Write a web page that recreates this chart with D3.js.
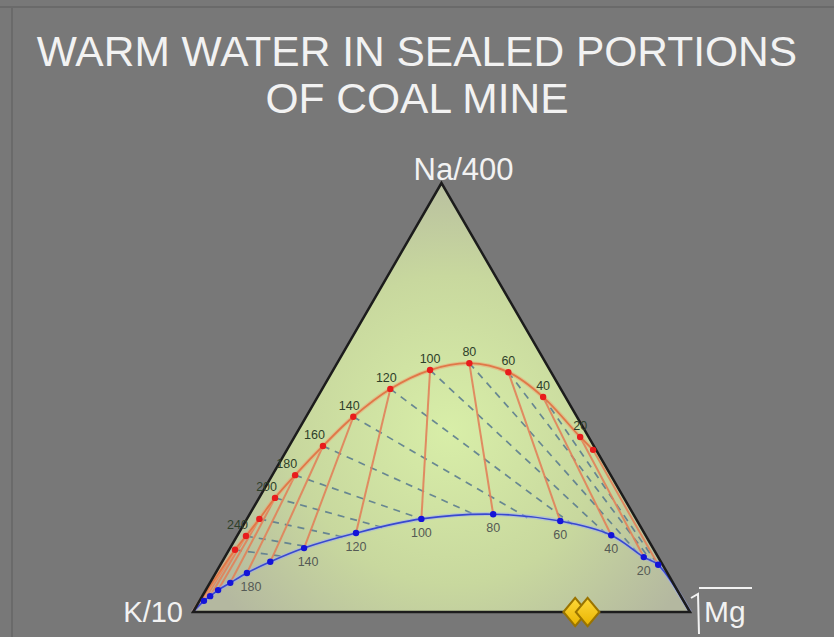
<!DOCTYPE html>
<html><head><meta charset="utf-8">
<script src="https://cdn.jsdelivr.net/npm/d3@7"></script>
<style>html,body{margin:0;padding:0;background:#787878;}svg{display:block;}</style>
</head><body>
<svg id="chart" width="834" height="637"></svg>
<script>
// ---- data (ternary percentages: Na/400, K/10, sqrt(Mg)) ----
const temps      = [0, 20, 40, 60, 80, 100, 120, 140, 160, 180, 200, 220, 240, 260];
const fullNa     = [37.8, 40.8, 50.1, 55.9, 58.0, 56.4, 52.0, 45.5, 38.7, 31.9, 26.6, 21.7, 17.7, 14.5];
const fullK      = [0.6, 1.7, 4.5, 8.6, 15.4, 24.1, 34.3, 45.0, 54.5, 63.5, 70.2, 75.8, 80.5, 84.3];
const fullMg     = [61.6, 57.5, 45.4, 35.5, 26.6, 19.5, 13.7, 9.5, 6.8, 4.6, 3.2, 2.5, 1.8, 1.2];
const partNa     = [11.0, 12.8, 17.9, 21.2, 22.8, 21.7, 18.4, 14.9, 11.7, 9.1, 6.8, 5.1, 3.7, 2.6];
const partK      = [0.9, 2.9, 6.9, 15.5, 28.2, 43.2, 58.0, 70.2, 78.6, 84.6, 89.1, 92.4, 94.7, 96.5];
const partMg     = [88.1, 84.3, 75.2, 63.3, 49.0, 35.1, 23.6, 14.9, 9.7, 6.3, 4.1, 2.5, 1.6, 0.9];
const fullLabels = [20, 40, 60, 80, 100, 120, 140, 160, 180, 200, 240];
const partLabels = [20, 40, 60, 80, 100, 120, 140, 180];
const sampleNa   = [0, 0];
const sampleK    = [23.1, 20.6];
const sampleMg   = [76.9, 79.4];
const titleLines = ["WARM WATER IN SEALED PORTIONS", "OF COAL MINE"];
const axisNames  = ["Na/400", "K/10", "Mg"];

// ---- layout ----
const svg = d3.select("#chart");
const xS = d3.scaleLinear().domain([0, 100]).range([193, 690]); // along base (Mg share)
const yS = d3.scaleLinear().domain([0, 100]).range([612, 183]); // Na share
const proj = (na, k, mg) => { const s = na + k + mg; na = na / s * 100; mg = mg / s * 100; return [xS(mg + na / 2), yS(na)]; };

const full = temps.map((t, i) => ({t, p: proj(fullNa[i], fullK[i], fullMg[i])}));
const part = temps.map((t, i) => ({t, p: proj(partNa[i], partK[i], partMg[i])}));
const A = proj(100, 0, 0), B = proj(0, 100, 0), C = proj(0, 0, 100);

// background & frame
svg.append("rect").attr("width", 834).attr("height", 637).attr("fill", "#787878");
svg.append("line").attr("x1", 0).attr("x2", 834).attr("y1", 7).attr("y2", 7).attr("stroke", "#6a6a6a").attr("stroke-width", 2);
svg.append("line").attr("x1", 12).attr("x2", 12).attr("y1", 7).attr("y2", 637).attr("stroke", "#6a6a6a").attr("stroke-width", 2);

// title
svg.append("g").selectAll("text").data(titleLines).join("text")
  .attr("x", 417).attr("y", (d, i) => 66 + i * 47)
  .attr("text-anchor", "middle").attr("font-family", "Liberation Sans, Arial, sans-serif")
  .attr("font-size", 42.5).attr("fill", "#f2f2f2").text(d => d);

// gradient
const defs = svg.append("defs");
const rg = defs.append("radialGradient").attr("id", "tg").attr("gradientUnits", "userSpaceOnUse")
  .attr("cx", 450).attr("cy", 430).attr("r", 280);
rg.append("stop").attr("offset", 0).attr("stop-color", "#d8eea8");
rg.append("stop").attr("offset", 0.55).attr("stop-color", "#c8d89e");
rg.append("stop").attr("offset", 1).attr("stop-color", "#b4b8a0");
const dg = defs.append("linearGradient").attr("id", "dg").attr("x1", 0).attr("y1", 0).attr("x2", 0).attr("y2", 1);
dg.append("stop").attr("offset", 0).attr("stop-color", "#ffd83a");
dg.append("stop").attr("offset", 1).attr("stop-color", "#e8b400");

svg.append("path").attr("d", d3.line()([A, B, C]) + "Z").attr("fill", "url(#tg)");

// dashed lines: from each full-equilibrium point toward Mg vertex, stopping at partial curve
function intersect(P, Q, pts) {
  for (let i = 0; i < pts.length - 1; i++) {
    const a = pts[i], b = pts[i + 1];
    const r = [Q[0] - P[0], Q[1] - P[1]], s = [b[0] - a[0], b[1] - a[1]];
    const den = r[0] * s[1] - r[1] * s[0];
    if (Math.abs(den) < 1e-9) continue;
    const t = ((a[0] - P[0]) * s[1] - (a[1] - P[1]) * s[0]) / den;
    const u = ((a[0] - P[0]) * r[1] - (a[1] - P[1]) * r[0]) / den;
    if (t >= 0 && t <= 1 && u >= 0 && u <= 1) return [P[0] + t * r[0], P[1] + t * r[1]];
  }
  return null;
}
const partPts = [B].concat(part.map(d => d.p).reverse());
const gDash = svg.append("g");
full.forEach(d => {
  const q = intersect(d.p, C, partPts);
  if (q) gDash.append("line").attr("x1", d.p[0]).attr("y1", d.p[1]).attr("x2", q[0]).attr("y2", q[1])
    .attr("stroke", "#56788f").attr("stroke-width", 1.7).attr("stroke-dasharray", "7,6").attr("opacity", 0.85);
});

// tie lines (constant K/Mg) from full to partial
const gTie = svg.append("g");
full.forEach((d, i) => {
  gTie.append("line").attr("x1", d.p[0]).attr("y1", d.p[1]).attr("x2", part[i].p[0]).attr("y2", part[i].p[1])
    .attr("stroke", "#e2825a").attr("stroke-width", 2).attr("opacity", 0.9);
});
[full[full.length - 1], part[part.length - 1]].forEach(d => {
  gTie.append("line").attr("x1", d.p[0]).attr("y1", d.p[1]).attr("x2", B[0]).attr("y2", B[1])
    .attr("stroke", "#e2825a").attr("stroke-width", 2).attr("opacity", 0.8);
});

// full equilibrium curve
const curve = d3.line().curve(d3.curveCatmullRom);
svg.append("path").attr("d", curve(full.map(d => d.p).concat([B])))
  .attr("fill", "none").attr("stroke", "#f0a070").attr("stroke-width", 4).attr("opacity", 0.5);
svg.append("path").attr("d", curve(full.map(d => d.p).concat([B])))
  .attr("fill", "none").attr("stroke", "#e07848").attr("stroke-width", 1.8);

// partial curve
const pc = [C].concat(part.map(d => d.p)).concat([B]);
svg.append("path").attr("d", curve(pc)).attr("fill", "none").attr("stroke", "#9aa8ff").attr("stroke-width", 4).attr("opacity", 0.45);
svg.append("path").attr("d", curve(pc)).attr("fill", "none").attr("stroke", "#3848d0").attr("stroke-width", 1.6);

// triangle outline
svg.append("path").attr("d", d3.line()([A, B, C]) + "Z").attr("fill", "none")
  .attr("stroke", "#1c1c1c").attr("stroke-width", 2.5).attr("stroke-linejoin", "miter");

// points
svg.append("g").selectAll("circle").data(full).join("circle")
  .attr("cx", d => d.p[0]).attr("cy", d => d.p[1]).attr("r", 3.2).attr("fill", "#e81c1c");
svg.append("g").selectAll("circle").data(part).join("circle")
  .attr("cx", d => d.p[0]).attr("cy", d => d.p[1]).attr("r", 3.2).attr("fill", "#1414d8");

// labels
svg.append("g").selectAll("text").data(full.filter(d => fullLabels.includes(d.t))).join("text")
  .attr("x", d => d.t >= 160 ? d.p[0] + 2 : d.p[0] - (d.t >= 120 ? 4 : 0))
  .attr("y", d => d.p[1] - 7)
  .attr("text-anchor", d => d.t >= 160 ? "end" : "middle")
  .attr("font-family", "Liberation Sans, Arial, sans-serif").attr("font-size", 12.5)
  .attr("fill", "#2e402a").text(d => d.t);
svg.append("g").selectAll("text").data(part.filter(d => partLabels.includes(d.t))).join("text")
  .attr("x", d => d.p[0] + (d.t >= 140 ? 4 : 0)).attr("y", d => d.p[1] + 18)
  .attr("text-anchor", "middle")
  .attr("font-family", "Liberation Sans, Arial, sans-serif").attr("font-size", 12.5)
  .attr("fill", "#555a55").text(d => d.t);

// samples
const sym = d3.symbol().type(d3.symbolDiamond).size(230);
svg.append("g").selectAll("path").data(sampleNa.map((n, i) => proj(n, sampleK[i], sampleMg[i]))).join("path")
  .attr("transform", d => `translate(${d[0]},${d[1]}) scale(1.45,1)`).attr("d", sym)
  .attr("fill", "url(#dg)").attr("stroke", "#9a7400").attr("stroke-width", 1.6);

// axis names
const ff = "Liberation Sans, Arial, sans-serif";
svg.append("text").attr("x", A[0] + 22).attr("y", A[1] - 3).attr("text-anchor", "middle")
  .attr("font-family", ff).attr("font-size", 31).attr("fill", "#f2f2f2").text(axisNames[0]);
svg.append("text").attr("x", B[0] - 10).attr("y", B[1] + 10).attr("text-anchor", "end")
  .attr("font-family", ff).attr("font-size", 29).attr("fill", "#f2f2f2").text(axisNames[1]);
svg.append("text").attr("x", C[0] + 14).attr("y", C[1] + 10).attr("text-anchor", "start")
  .attr("font-family", ff).attr("font-size", 30).attr("fill", "#f2f2f2").text(axisNames[2]);
svg.append("path").attr("d", `M${C[0]+1},${C[1]-14} L${C[0]+8},${C[1]-18} L${C[0]+9},${C[1]+22} M${C[0]+9},${C[1]-24} L${C[0]+62},${C[1]-24}`)
  .attr("fill", "none").attr("stroke", "#f2f2f2").attr("stroke-width", 2);
</script>
</body></html>
